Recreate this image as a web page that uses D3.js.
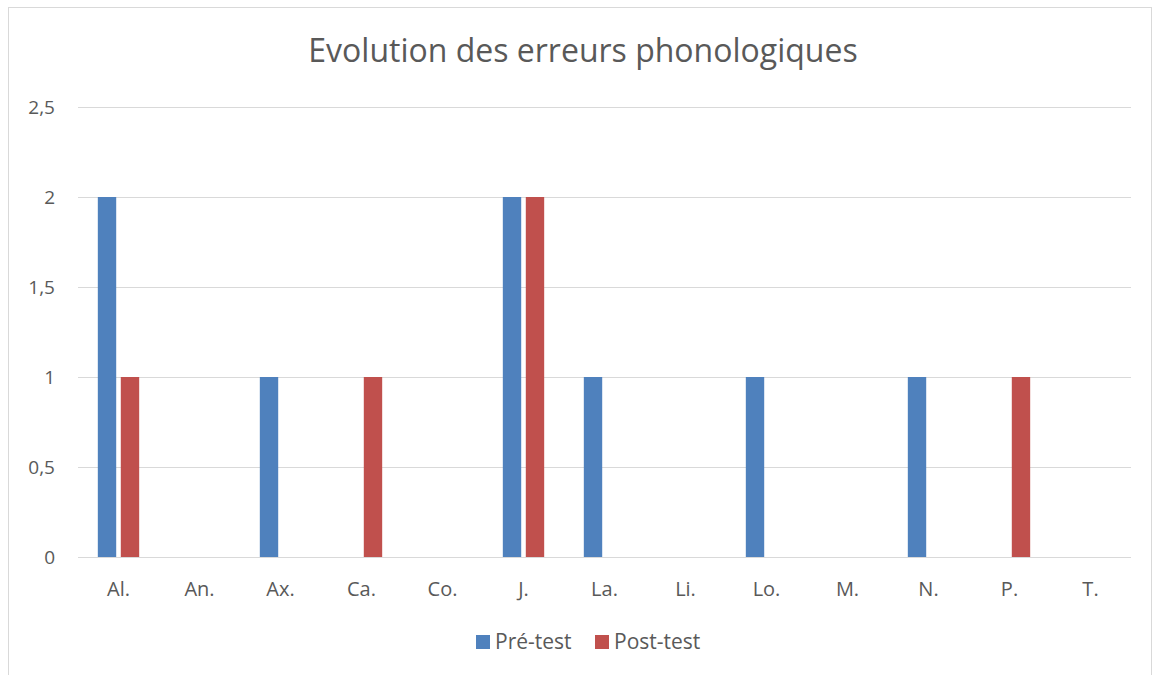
<!DOCTYPE html>
<html><head><meta charset="utf-8">
<script src="https://cdn.jsdelivr.net/npm/d3@7"></script>
<style>body{margin:0;background:#fff}svg{display:block}text{font-family:"Open Sans",sans-serif}</style>
</head><body>
<svg id="c" width="1153" height="675"></svg>
<script>
const categories = ["Al.","An.","Ax.","Ca.","Co.","J.","La.","Li.","Lo.","M.","N.","P.","T."];
const preTest  = [2,0,1,0,0,2,1,0,1,0,1,0,0];
const postTest = [1,0,0,1,0,2,0,0,0,0,0,1,0];
const seriesNames = ["Pré-test","Post-test"];
const yTicks = [0,0.5,1,1.5,2,2.5];
const title = "Evolution des erreurs phonologiques";
const colors = ["#4F81BD","#C0504D"];

const svg = d3.select("#c");
const W = 1153, H = 675;
const m = {left:78, right:1131, top:107, bottom:557};
svg.append("rect").attr("x",8.5).attr("y",7.5).attr("width",W-10).attr("height",H+10)
  .attr("fill","#fff").attr("stroke","#d9d9d9");

const x = d3.scaleBand().domain(categories).range([m.left,m.right]);
const y = d3.scaleLinear().domain([0,2.5]).range([m.bottom,m.top]);
const barW = x.bandwidth()*0.227;
const gap = barW*0.25;
const fmt = d => String(d).replace(".",",");

// grid
svg.append("g").selectAll("line").data(yTicks).join("line")
  .attr("x1",m.left).attr("x2",m.right)
  .attr("y1",d=>Math.round(y(d))+0.5).attr("y2",d=>Math.round(y(d))+0.5)
  .attr("stroke","#d9d9d9").attr("stroke-width",1);

// y axis labels
const yAxis = d3.axisLeft(y).tickValues(yTicks).tickFormat(fmt).tickSize(0).tickPadding(0);
const gy = svg.append("g").attr("transform",`translate(55,0)`).call(yAxis);
gy.select(".domain").remove();
gy.selectAll("text").attr("fill","#595959").style("font-size","19px").attr("dy","0.36em");

// x axis labels
const xAxis = d3.axisBottom(x).tickSize(0).tickPadding(0);
const gx = svg.append("g").attr("transform",`translate(0,${m.bottom})`).call(xAxis);
gx.select(".domain").remove();
gx.selectAll("text").attr("fill","#595959").style("font-size","20px").attr("dy",null).attr("y",39);

// bars
const series = [preTest, postTest];
series.forEach((vals,si)=>{
  svg.append("g").selectAll("rect").data(vals.map((v,i)=>({c:categories[i],v})).filter(d=>d.v>0))
    .join("rect")
    .attr("x",d=>x(d.c)+x.bandwidth()/2 + (si===0 ? -gap/2-barW : gap/2))
    .attr("width",barW)
    .attr("y",d=>y(d.v)).attr("height",d=>y(0)-y(d.v))
    .attr("fill",colors[si]);
});

// title
svg.append("text").attr("x",583).attr("y",62).attr("text-anchor","middle")
  .attr("fill","#595959").style("font-size","32px").text(title);

// legend
const lg = svg.append("g");
const lx = [476,595];
seriesNames.forEach((n,i)=>{
  lg.append("rect").attr("x",lx[i]).attr("y",635).attr("width",14).attr("height",14).attr("fill",colors[i]);
  lg.append("text").attr("x",lx[i]+19).attr("y",649).attr("fill","#595959").style("font-size","21px").text(n);
});
</script>
</body></html>
